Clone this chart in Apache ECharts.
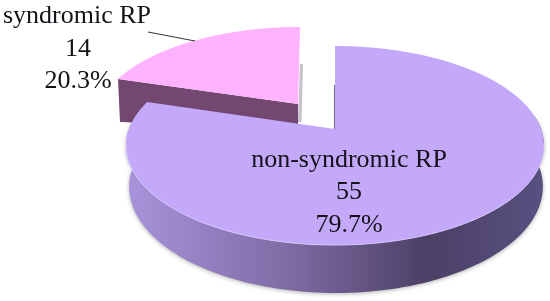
<!DOCTYPE html>
<html>
<head>
<meta charset="utf-8">
<title>RP pie</title>
<style>
html,body{margin:0;padding:0;background:#fff;}
#chart{width:550px;height:301px;}
</style>
</head>
<body>
<div id="chart"></div>
<script src="https://cdn.jsdelivr.net/npm/echarts@6/dist/echarts.min.js"></script>
<script>
var categories = ['syndromic RP', 'non-syndromic RP'];
var counts = [14, 55];

var total = counts[0] + counts[1];
var FONT = '"Liberation Serif", serif';
var K = 0.1658; // perspective of the tilted disc

// disc point for clock angle a (radians, 0 = up, clockwise)
function pt(d, a) {
    var u = Math.sin(a), v = Math.cos(a), w = 1 + K * v;
    return [d.x + d.rx * u / w + (d.skew || 0) * v / w, d.y - d.ry * v / w];
}
function arc(d, a0, a1) {
    var pts = [], n = 120;
    for (var i = 0; i <= n; i++) pts.push(pt(d, a0 + (a1 - a0) * i / n));
    return pts;
}
function label(x, y, t) {
    return {
        type: 'text',
        style: {x: x, y: y, text: t, fill: '#141218', font: '26px ' + FONT, align: 'center', verticalAlign: 'middle'}
    };
}
function pctText(v) { return (v / total * 100).toFixed(1) + '%'; }

var TWO_PI = Math.PI * 2;

function renderItem(params, api) {
    var value = api.value(0);
    var sweep = value / total * TWO_PI;
    var kids = [];
    if (params.dataIndex === 0) {
        // exploded small slice, runs counter-clockwise from 12 o'clock
        var top = {x: 298, y: 104, rx: 198, ry: 89.8, skew: 2.4};
        var corner = pt(top, -sweep);
        kids.push({type: 'polygon', shape: {points: [[300, 64], [303, 64], [301.5, 122], [298, 122]]},
            style: {fill: '#c6c2c8'}});
        kids.push({type: 'polygon', shape: {points: [corner, [top.x, top.y], [top.x, top.y + 24], [corner[0] + 2, corner[1] + 43]]},
            style: {fill: '#724770'}});
        kids.push({type: 'polygon', shape: {points: [[top.x, top.y]].concat(arc(top, 0, -sweep))},
            style: {fill: '#ffb3ff'}});
        kids.push({type: 'line', shape: {x1: 148, y1: 32, x2: 195, y2: 41}, style: {stroke: '#333', lineWidth: 1}});
        kids.push(label(77, 16, categories[0]));
        kids.push(label(78, 49, String(value)));
        kids.push(label(78, 81, pctText(value)));
    } else {
        var disc = {x: 335, y: 129, rx: 206, ry: 96.8};
        var low = {x: 336, y: 169, rx: 204, ry: 103.4};
        var side = arc(disc, Math.PI * 0.46, Math.PI * 1.54).concat(arc(low, Math.PI * 1.54, Math.PI * 0.46));
        kids.push({type: 'polygon', shape: {points: [[334, 85], [337, 85], [337, 129], [334, 129]]},
            style: {fill: '#6f6a80'}});
        kids.push({type: 'polygon', shape: {points: side},
            style: {
                fill: new echarts.graphic.LinearGradient(0, 0, 1, 0, [
                    {offset: 0, color: '#a994dc'},
                    {offset: 0.4, color: '#7d6aa2'},
                    {offset: 0.72, color: '#4c4066'},
                    {offset: 1, color: '#585080'}
                ]),
                shadowBlur: 4, shadowColor: 'rgba(0,0,0,0.3)', shadowOffsetY: 1
            }});
        kids.push({type: 'polygon', shape: {points: [[disc.x, disc.y]].concat(arc(disc, 0, sweep))},
            style: {fill: '#c4a8fa'}});
        kids.push({type: 'polyline', shape: {points: arc(disc, Math.PI * 0.55, Math.PI * 1.45)},
            style: {stroke: '#d6c4fb', lineWidth: 1, fill: null}});
        kids.push(label(349, 160, categories[1]));
        kids.push(label(349, 192, String(value)));
        kids.push(label(349, 225, pctText(value)));
    }
    return {type: 'group', children: kids};
}

var chart = echarts.init(document.getElementById('chart'), null, {renderer: 'canvas'});
chart.setOption({
    animation: false,
    backgroundColor: '#ffffff',
    series: [{
        type: 'custom',
        coordinateSystem: 'none',
        renderItem: renderItem,
        silent: true,
        data: counts.map(function (c) { return [c]; })
    }]
});
</script>
</body>
</html>
